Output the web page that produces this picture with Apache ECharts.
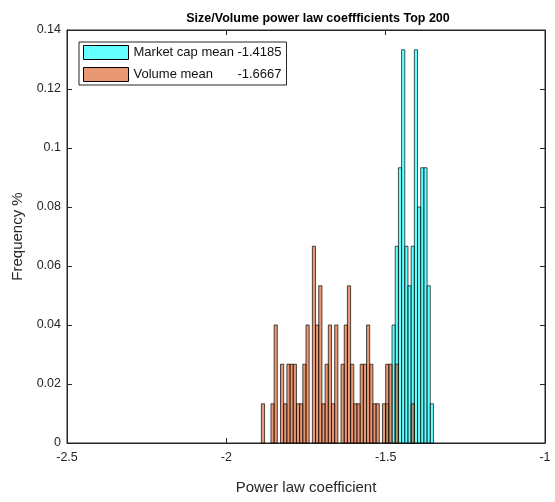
<!DOCTYPE html>
<html>
<head>
<meta charset="utf-8">
<script src="https://cdn.jsdelivr.net/npm/echarts@6/dist/echarts.min.js"></script>
<style>html,body{margin:0;padding:0;background:#fff;}#c{width:555px;height:502px;}</style>
</head>
<body>
<div id="c"></div>
<script>
// ---- data ----
const titleText = 'Size/Volume power law coeffficients Top 200';
const xName = 'Power law coefficient';
const yName = 'Frequency %';
const xTicks = [-2.5, -2, -1.5, -1];
const yTicks = [0, 0.02, 0.04, 0.06, 0.08, 0.1, 0.12, 0.14];
const binWidth = 0.01;

const mcapLabel = 'Market cap mean';
const mcapMean = '-1.4185';
const mcapBinStart = -1.50;
const mcapFreq = [0.0133, 0, 0.04, 0.0667, 0.0933, 0.1333, 0.0667, 0.0533, 0.0667, 0.1333, 0.08, 0.0933, 0.0933, 0.0533, 0.0133];

const volLabel = 'Volume mean';
const volMean = '-1.6667';
const volBinStart = -1.89;
const volFreq = [0.0133, 0, 0, 0.0133, 0.04, 0, 0.0267, 0.0133, 0.0267, 0.0267,
                 0.0267, 0.0133, 0.0133, 0.0267, 0.04, 0, 0.0667, 0.04, 0.0533, 0.0133,
                 0.0267, 0.04, 0.0133, 0.04, 0, 0.0267, 0.04, 0.0533, 0.0267, 0.0133,
                 0.0133, 0.0267, 0.0267, 0.04, 0.0267, 0.0133, 0.0133, 0, 0.0133, 0.0267,
                 0.0267, 0, 0.0267, 0, 0, 0, 0, 0.0133];

// ---- build bins ----
function bins(start, freqs) {
  return freqs.map((f, i) => {
    const a = +(start + i * binWidth).toFixed(4);
    return [a, +(a + binWidth).toFixed(4), f];
  });
}
function makeRender(fill) {
  return function (params, api) {
    const x0 = api.value(0), x1 = api.value(1), y = api.value(2);
    if (!y) return null;
    const p0 = api.coord([x0, y]);
    const p1 = api.coord([x1, 0]);
    return {
      type: 'rect',
      shape: { x: p0[0], y: p0[1], width: p1[0] - p0[0], height: p1[1] - p0[1] },
      style: { fill: fill, stroke: 'rgba(0,0,0,0.85)', lineWidth: 0.8 }
    };
  };
}

const FONT = '"Liberation Sans", Arial, Helvetica, sans-serif';
const AX = '#262626';
const mcapName = mcapLabel + '|' + mcapMean;
const volName = volLabel + '|' + volMean;

const chart = echarts.init(document.getElementById('c'), null, { renderer: 'canvas' });
chart.setOption({
  animation: false,
  backgroundColor: '#fff',
  textStyle: { fontFamily: FONT },
  title: {
    text: titleText,
    left: 313, top: 7, textAlign: 'center',
    textStyle: { fontFamily: FONT, fontSize: 12.5, fontWeight: 'bold', color: '#000' }
  },
  grid: { left: 67, right: 10, top: 30, bottom: 59, show: true, borderColor: AX, borderWidth: 1, backgroundColor: '#fff' },
  legend: {
    orient: 'vertical',
    left: 79, top: 42,
    padding: [3, 5, 3, 4],
    itemGap: 7,
    itemWidth: 45, itemHeight: 14,
    icon: 'rect',
    backgroundColor: '#fff',
    borderColor: AX, borderWidth: 1, borderRadius: 0,
    data: [
      { name: mcapName, itemStyle: { color: '#66ffff', borderColor: '#000', borderWidth: 1, opacity: 1 } },
      { name: volName, itemStyle: { color: '#e89875', borderColor: '#000', borderWidth: 1, opacity: 1 } }
    ],
    formatter: function (n) {
      const p = n.split('|');
      return '{a|' + p[0] + '}{b|' + p[1] + '}';
    },
    textStyle: {
      fontFamily: FONT, fontSize: 13, color: '#111',
      rich: {
        a: { fontFamily: FONT, fontSize: 13, color: '#111', width: 100 },
        b: { fontFamily: FONT, fontSize: 13, color: '#111', width: 48, align: 'right' }
      }
    }
  },
  xAxis: [{
    type: 'value', min: xTicks[0], max: xTicks[xTicks.length - 1], interval: 0.5,
    name: xName, nameLocation: 'middle', nameGap: 37,
    nameTextStyle: { fontFamily: FONT, fontSize: 15, color: AX },
    axisLine: { show: true, onZero: false, lineStyle: { color: AX, width: 1 } },
    axisTick: { show: true, inside: true, length: 5, lineStyle: { color: AX } },
    axisLabel: { fontFamily: FONT, fontSize: 12.5, color: AX, margin: 8, formatter: v => String(+v.toFixed(2)) },
    splitLine: { show: false }
  }, {
    type: 'value', position: 'top', min: xTicks[0], max: xTicks[xTicks.length - 1], interval: 0.5,
    axisLine: { show: true, onZero: false, lineStyle: { color: AX, width: 1 } },
    axisTick: { show: true, inside: true, length: 5, lineStyle: { color: AX } },
    axisLabel: { show: false }, splitLine: { show: false }
  }],
  yAxis: [{
    type: 'value', min: yTicks[0], max: yTicks[yTicks.length - 1], interval: 0.02,
    name: yName, nameLocation: 'middle', nameGap: 38,
    nameTextStyle: { fontFamily: FONT, fontSize: 15, color: AX },
    axisLine: { show: true, onZero: false, lineStyle: { color: AX, width: 1 } },
    axisTick: { show: true, inside: true, length: 5, lineStyle: { color: AX } },
    axisLabel: { fontFamily: FONT, fontSize: 12.5, color: AX, margin: 6, formatter: v => String(+v.toFixed(2)) },
    splitLine: { show: false }
  }, {
    type: 'value', position: 'right', min: yTicks[0], max: yTicks[yTicks.length - 1], interval: 0.02,
    axisLine: { show: true, onZero: false, lineStyle: { color: AX, width: 1 } },
    axisTick: { show: true, inside: true, length: 5, lineStyle: { color: AX } },
    axisLabel: { show: false }, splitLine: { show: false }
  }],
  series: [{
    name: mcapName,
    type: 'custom',
    xAxisIndex: 0, yAxisIndex: 0,
    renderItem: makeRender('rgba(0,255,255,0.6)'),
    encode: { x: [0, 1], y: 2 },
    itemStyle: { color: '#66ffff' },
    data: bins(mcapBinStart, mcapFreq),
    z: 2
  }, {
    name: volName,
    type: 'custom',
    xAxisIndex: 0, yAxisIndex: 0,
    renderItem: makeRender('rgba(217,83,25,0.6)'),
    encode: { x: [0, 1], y: 2 },
    itemStyle: { color: '#e89875' },
    data: bins(volBinStart, volFreq),
    z: 3
  }]
});
</script>
</body>
</html>
